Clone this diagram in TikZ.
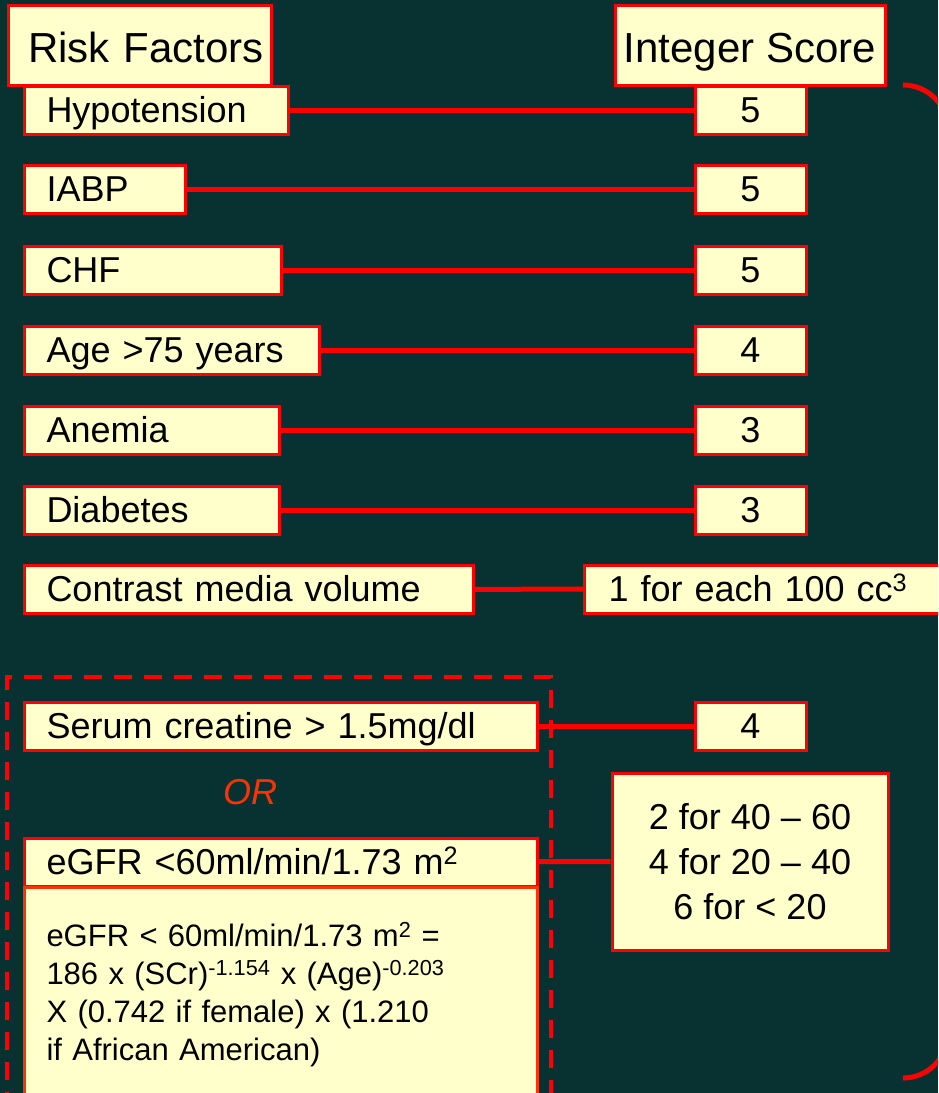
\documentclass[tikz,border=0pt]{standalone}
\usepackage{fontspec}
\setmainfont{Liberation Sans}
\usetikzlibrary{positioning}

\definecolor{slidebg}{RGB}{8,50,50}
\definecolor{boxfill}{RGB}{255,255,204}
\definecolor{boxred}{RGB}{255,0,0}
\definecolor{orred}{RGB}{255,51,0}

\begin{document}
\begin{tikzpicture}[x=1pt, y=-1pt,
  box/.style={draw=boxred, fill=boxfill, line width=3pt, rectangle, inner sep=0pt},
  head/.style={box, minimum height=80pt, text height=44pt, text depth=10pt, font=\fontsize{42}{50}\selectfont},
  factor/.style={box, anchor=west, align=left, inner xsep=22pt, minimum height=48pt, text height=32pt, text depth=8pt, font=\fontsize{36}{43}\selectfont},
  score/.style={box, minimum width=111pt, minimum height=48pt, text height=32pt, text depth=8pt, font=\fontsize{36}{43}\selectfont},
  link/.style={draw=boxred, line width=5pt}]
\useasboundingbox (0,0) rectangle (938,1093);
\clip (0,0) rectangle (938,1093);
\fill[slidebg] (0,0) rectangle (938,1093);

% dashed frame round the kidney factors
\draw[boxred, line width=4pt, dash pattern=on 18pt off 12pt] (7,1110) -- (7,677) -- (551,677) -- (551,1110);

\node (riskhead) [head, anchor=west, minimum width=263pt, text width=248pt, align=right] at (7,45) {Risk Factors};
\node (scorehead) [head, minimum width=270pt, align=center] at (750,45) {Integer Score};

\node (hypo) [factor, text width=220pt] at (23,110) {Hypotension};
\node (iabp) [factor, text width=117pt] at (23,189.5) {IABP};
\node (chf) [factor, text width=213pt] at (23,270) {CHF};
\node (age) [factor, text width=251pt] at (23,350) {Age >75 years};
\node (anemia) [factor, text width=211pt] at (23,430) {Anemia};
\node (diab) [factor, text width=211pt] at (23,510) {Diabetes};
\node (contrast) [factor, text width=405pt] at (23,589.5) {Contrast media volume};
\node (serum) [factor, text width=469pt] at (23,726) {Serum creatine > 1.5mg/dl};
\node (or) [text=orred, font=\fontsize{36}{43}\selectfont\itshape] at (250,792) {OR};
\node (egfr) [factor, text width=469pt] at (23,862) {eGFR <60ml/min/1.73 m\textsuperscript{2}};
\node (formula) [box, draw=orred, anchor=north west, align=left, text width=469pt, inner xsep=22pt, minimum height=214pt, font=\fontsize{31}{38}\selectfont] at (23,886)
  {eGFR < 60ml/min/1.73 m\textsuperscript{2} =\\
   186 x (SCr)\textsuperscript{-1.154} x (Age)\textsuperscript{-0.203}\\
   X (0.742 if female) x (1.210\\
   if African American)};

\node (s1) [score] at (750.5,110) {5};
\node (s2) [score] at (750.5,189.5) {5};
\node (s3) [score] at (750.5,270) {5};
\node (s4) [score] at (750.5,350) {4};
\node (s5) [score] at (750.5,430) {3};
\node (s6) [score] at (750.5,510) {3};
\node (perml) [factor, text width=330pt, inner xsep=24pt] at (583,589) {1 for each 100 cc\textsuperscript{3}};
\node (s7) [score] at (750.5,726) {4};
\node (range) [box, align=center, minimum width=276pt, minimum height=177pt, font=\fontsize{36}{45}\selectfont] at (750,861.5)
  {2 for 40 \textendash{} 60\\4 for 20 \textendash{} 40\\6 for < 20};

\draw[link] (hypo) -- (s1);
\draw[link] (iabp) -- (s2);
\draw[link] (chf) -- (s3);
\draw[link] (age) -- (s4);
\draw[link] (anemia) -- (s5);
\draw[link] (diab) -- (s6);
\draw[link] (contrast) -- (perml);
\draw[link] (serum) -- (s7);
\draw[link] (egfr) -- (range);

% brace on the right edge
\draw[link] (903,85) arc[start angle=-90, end angle=0, radius=45] -- (948,1033) arc[start angle=0, end angle=90, radius=45];
\end{tikzpicture}
\end{document}
